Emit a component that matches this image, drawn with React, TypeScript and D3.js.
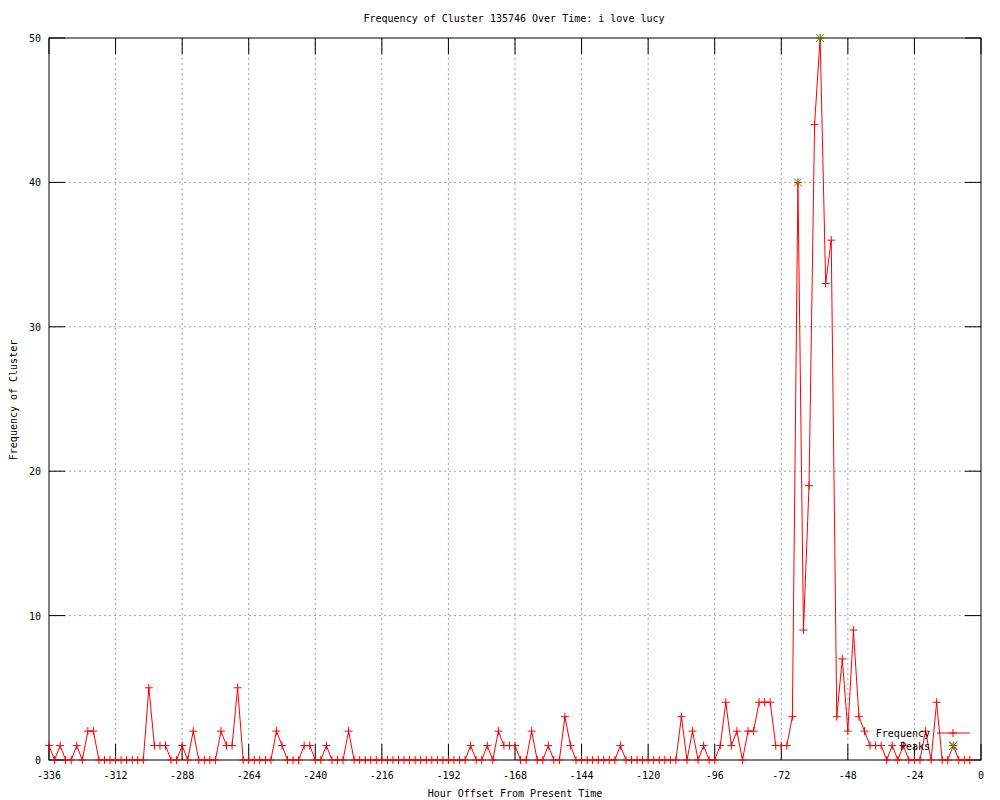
import { useEffect, useRef } from 'react';
import * as d3 from 'd3';

// hours every 2h from -336 to -4
const hours = d3.range(-336, -2, 2);
const freq = [
  1, 0, 1, 0, 0, 1, 0, 2, 2, 0, 0, 0, 0, 0, 0, 0, 0, 0, 5, 1,
  1, 1, 0, 0, 1, 0, 2, 0, 0, 0, 0, 2, 1, 1, 5, 0, 0, 0, 0, 0,
  0, 2, 1, 0, 0, 0, 1, 1, 0, 0, 1, 0, 0, 0, 2, 0, 0, 0, 0, 0,
  0, 0, 0, 0, 0, 0, 0, 0, 0, 0, 0, 0, 0, 0, 0, 0, 1, 0, 0, 1,
  0, 2, 1, 1, 1, 0, 0, 2, 0, 0, 1, 0, 0, 3, 1, 0, 0, 0, 0, 0,
  0, 0, 0, 1, 0, 0, 0, 0, 0, 0, 0, 0, 0, 0, 3, 0, 2, 0, 1, 0,
  0, 1, 4, 1, 2, 0, 2, 2, 4, 4, 4, 1, 1, 1, 3, 40, 9, 19, 44, 50,
  33, 36, 3, 7, 2, 9, 3, 2, 1, 1, 1, 0, 1, 0, 1, 0, 0, 0, 2, 0,
  4, 0, 0, 1, 0, 0, 0,
];
const peakHours = [-66, -58, -10];
const peakVals = [40, 50, 1];
const xTicks = d3.range(-336, 1, 24);
const yTicks = [0, 10, 20, 30, 40, 50];

const FONT = '"DejaVu Sans Mono", "Liberation Mono", monospace';

export default function App() {
  const svgRef = useRef<SVGSVGElement>(null);

  useEffect(() => {
    const m = { top: 38, right: 19, bottom: 40, left: 49 };
    const w = 1000, h = 800;
    const W = w - m.left - m.right;
    const H = h - m.top - m.bottom;

    const x = d3.scaleLinear().domain([-336, 0]).range([0, W]);
    const y = d3.scaleLinear().domain([0, 50]).range([H, 0]);

    const svg = d3.select(svgRef.current);
    svg.selectAll('*').remove();
    svg.append('rect').attr('width', w).attr('height', h).attr('fill', '#fff');
    const g = svg.append('g').attr('transform', `translate(${m.left},${m.top})`);

    // grid
    g.append('g').selectAll('line').data(xTicks.slice(1, -1)).join('line')
      .attr('x1', d => x(d)).attr('x2', d => x(d)).attr('y1', 0).attr('y2', H)
      .attr('stroke', '#a0a0a0').attr('stroke-dasharray', '2,3');
    g.append('g').selectAll('line').data(yTicks.slice(1, -1)).join('line')
      .attr('y1', d => y(d)).attr('y2', d => y(d)).attr('x1', 0).attr('x2', W)
      .attr('stroke', '#a0a0a0').attr('stroke-dasharray', '2,3');

    // ticks (mirrored, inward)
    const tl = 16;
    const tk = g.append('g').attr('stroke', '#000');
    xTicks.forEach(d => {
      tk.append('line').attr('x1', x(d)).attr('x2', x(d)).attr('y1', H).attr('y2', H - tl);
      tk.append('line').attr('x1', x(d)).attr('x2', x(d)).attr('y1', 0).attr('y2', tl);
    });
    yTicks.forEach(d => {
      tk.append('line').attr('y1', y(d)).attr('y2', y(d)).attr('x1', 0).attr('x2', tl);
      tk.append('line').attr('y1', y(d)).attr('y2', y(d)).attr('x1', W).attr('x2', W - tl);
    });

    // border
    g.append('rect').attr('width', W).attr('height', H)
      .attr('fill', 'none').attr('stroke', '#000');

    // tick labels
    const lab = g.append('g').attr('font-family', FONT).attr('font-size', 10).attr('fill', '#000');
    lab.selectAll('.xl').data(xTicks).join('text').attr('class', 'xl')
      .attr('x', x => 0 + (x as number)).attr('x', d => x(d)).attr('y', H + 19)
      .attr('text-anchor', 'middle').text(d => d < 0 ? `\u2212${-d}`.replace('\u2212', '-') : String(d));
    lab.selectAll('.yl').data(yTicks).join('text').attr('class', 'yl')
      .attr('x', -8).attr('y', d => y(d) + 4).attr('text-anchor', 'end').text(d => d);

    // series
    const pts = hours.map((hr, i) => [hr, freq[i]] as [number, number]);
    const line = d3.line<[number, number]>().x(d => x(d[0])).y(d => y(d[1]));
    g.append('path').datum(pts).attr('d', line)
      .attr('fill', 'none').attr('stroke', '#ff0000').attr('stroke-width', 1);
    const cross = (sel: any, cx: number, cy: number, col: string) => {
      sel.append('path').attr('d', `M${cx - 4},${cy}H${cx + 4}M${cx},${cy - 4}V${cy + 4}`)
        .attr('stroke', col).attr('fill', 'none');
    };
    const marks = g.append('g');
    pts.forEach(d => cross(marks, x(d[0]), y(d[1]), '#ff0000'));

    // peaks
    const star = (sel: any, cx: number, cy: number) => {
      sel.append('path').attr('d', `M${cx - 4},${cy - 4}L${cx + 4},${cy + 4}M${cx - 4},${cy + 4}L${cx + 4},${cy - 4}`)
        .attr('stroke', '#00c000').attr('fill', 'none');
    };
    peakHours.forEach((hr, i) => star(marks, x(hr), y(peakVals[i])));

    // legend
    const lg = svg.append('g').attr('font-family', FONT).attr('font-size', 10);
    lg.append('text').attr('x', 930).attr('y', 737).attr('text-anchor', 'end').text('Frequency');
    lg.append('line').attr('x1', 937).attr('x2', 970).attr('y1', 733).attr('y2', 733).attr('stroke', '#ff0000');
    cross(lg, 953, 733, '#ff0000');
    lg.append('text').attr('x', 930).attr('y', 750).attr('text-anchor', 'end').text('Peaks');
    star(lg, 953, 746);

    // titles
    const tt = svg.append('g').attr('font-family', FONT).attr('font-size', 10).attr('text-anchor', 'middle');
    tt.append('text').attr('x', 514).attr('y', 22).text('Frequency of Cluster 135746 Over Time: i love lucy');
    tt.append('text').attr('x', 515).attr('y', 797).text('Hour Offset From Present Time');
    tt.append('text').attr('transform', 'translate(17,400) rotate(-90)').text('Frequency of Cluster');
  }, []);

  return (
    <svg ref={svgRef} width={1000} height={800}
      style={{ position: 'absolute', left: 0, top: 0, display: 'block' }} />
  );
}
